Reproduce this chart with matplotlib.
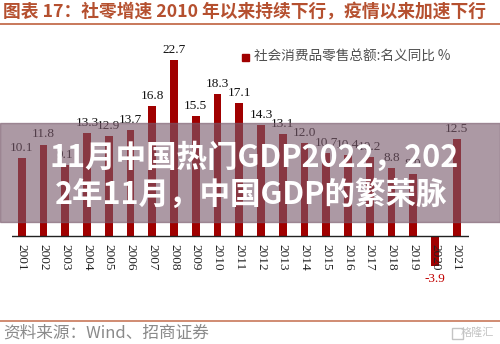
import matplotlib

matplotlib.use("Agg")
import matplotlib.pyplot as plt
from matplotlib.patches import Rectangle

W, H = 500, 344

years = [str(y) for y in range(2001, 2022)]
growth = [10.1, 11.8, 9.1, 13.3, 12.9, 13.7, 16.8, 22.7, 15.5, 18.3, 17.1,
          14.3, 13.1, 12.0, 10.7, 10.4, 10.2, 8.8, 8.0, -3.9, 12.5]

title = "图表 17：社零增速 2010 年以来持续下行，疫情以来加速下行"
legend_label = "社会消费品零售总额:名义同比 %"
source = "资料来源：Wind、招商证券"
banner_lines = ["11月中国热门GDP2022，202", "2年11月，中国GDP的繁荣脉"]

BAR = "#a00000"
RUST = "#b5502f"
CJK = ["Noto Sans CJK SC", "DejaVu Sans"]
SERIF = ["Liberation Serif", "DejaVu Serif"]


def px(x, y):
    """pixel (from top-left) -> figure fraction"""
    return x / W, 1 - y / H


fig = plt.figure(figsize=(W / 100, H / 100), dpi=100)
fig.patch.set_facecolor("white")

# bar axes: zero line sits at y=236px, 7.75 px per percentage point
ax_l, ax_r, ax_t, ax_b = 12, 469, 40, 290
ax = fig.add_axes([ax_l / W, 1 - ax_b / H, (ax_r - ax_l) / W, (ax_b - ax_t) / H])
step, x0 = 21.75, 21.7
ax.set_xlim(-(x0 - ax_l) / step, (ax_r - x0) / step)
ax.set_ylim(-(ax_b - 236) / 7.75, (236 - ax_t) / 7.75)
ax.axis("off")

xs = list(range(len(years)))
ax.bar(xs, growth, width=0.35, color=BAR, zorder=2)
ax.axhline(0, color="#222222", lw=1.0, zorder=3)

for x, v, yr in zip(xs, growth, years):
    if v >= 0:
        ax.annotate(f"{v:.1f}", (x, v), xytext=(0, 3), textcoords="offset points",
                    ha="center", va="bottom", fontsize=9.5, family=SERIF, color="#111111")
    else:
        ax.annotate(f"{v:.1f}", (x, v), xytext=(0, -5), textcoords="offset points",
                    ha="center", va="top", fontsize=9.5, family=SERIF, color="#c00000")
    ax.annotate(yr, (x, 0), xytext=(0, -6), textcoords="offset points",
                ha="center", va="top", rotation=270, fontsize=9.5, family=SERIF,
                color="#222222", zorder=4)

# legend swatch + label
fig.patches.append(Rectangle(px(242, 61), 7 / W, 7 / H, transform=fig.transFigure,
                             color=BAR, zorder=5))
fig.text(*px(254, 57), legend_label, ha="left", va="center", fontsize=9.8,
         family=CJK, color="#505050")

# header / footer
fig.text(*px(3, 12), title, ha="left", va="center", fontsize=12.8,
         family=CJK, fontweight="bold", color=RUST)
fig.add_artist(plt.Line2D([0, 1], [1 - 24 / H] * 2, color="#c8785a", lw=1.4,
                          transform=fig.transFigure))
fig.add_artist(plt.Line2D([0, 1], [1 - 321 / H] * 2, color="#c8785a", lw=1.2,
                          transform=fig.transFigure))
fig.text(*px(3, 333), source, ha="left", va="center", fontsize=12,
         family=CJK, color="#8a8a8a")
fig.text(*px(494, 333), "格隆汇", ha="right", va="center", fontsize=8,
         family=CJK, color="#c4c4c4")
fig.patches.append(Rectangle(px(452, 339), 11 / W, 11 / H, transform=fig.transFigure,
                             fill=False, ec="#c4c4c4", lw=1.0, zorder=5))

# translucent headline banner across the chart
fig.patches.append(Rectangle(px(0, 222), 1, 99 / H, transform=fig.transFigure,
                             color="#7a5a6c", alpha=0.62, zorder=10))
fig.text(*px(254, 158), banner_lines[0], ha="center", va="center", fontsize=22,
         family=CJK, fontweight="bold", color="white", zorder=11)
fig.text(*px(251, 195), banner_lines[1], ha="center", va="center", fontsize=22,
         family=CJK, fontweight="bold", color="white", zorder=11)

fig.savefig("out.png", dpi=100)
